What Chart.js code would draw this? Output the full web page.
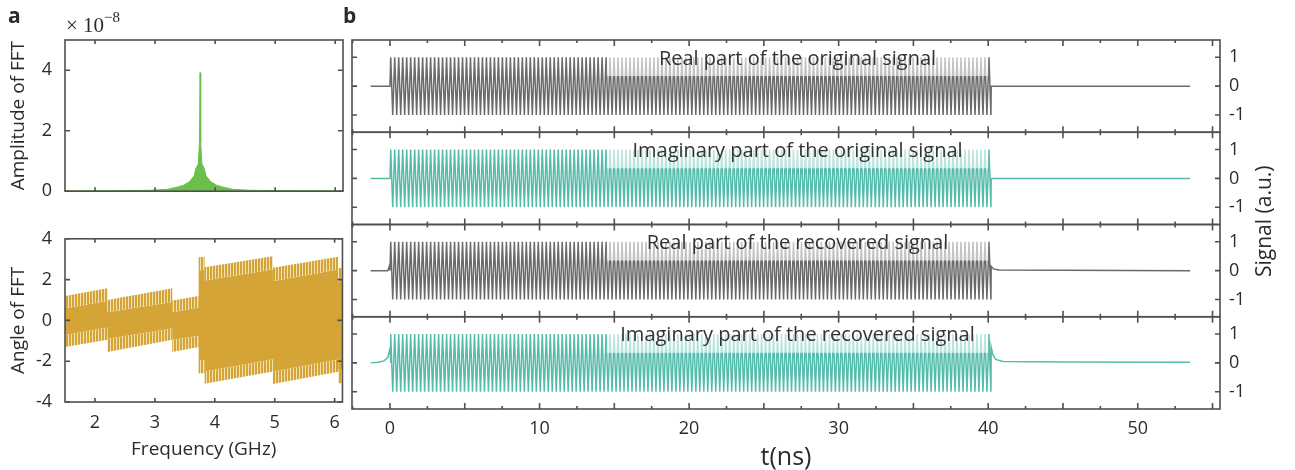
<!DOCTYPE html>
<html>
<head>
<meta charset="utf-8">
<script src="https://cdn.jsdelivr.net/npm/chart.js@4.4.1/dist/chart.umd.min.js"></script>
<style>
body { margin: 0; background: #fff; font-family: 'Open Sans', sans-serif; color: #2b2b2b; }
#fig { position: relative; width: 1295px; height: 470px; overflow: hidden; }
canvas { position: absolute; }
.lbl { position: absolute; white-space: nowrap; line-height: 1; }
</style>
</head>
<body>
<div id="fig">
  <canvas id="amp" width="350" height="215" style="left:0;top:0"></canvas>
  <canvas id="ang" width="350" height="255" style="left:0;top:215px"></canvas>
  <canvas id="sig" width="955" height="470" style="left:340px;top:0"></canvas>
  <div class="lbl" style="left:8px;top:5px;font-weight:bold;font-size:21px">a</div>
  <div class="lbl" style="left:343px;top:5px;font-weight:bold;font-size:21px">b</div>
  <div class="lbl" style="left:66px;top:12px;font-family:'Liberation Serif',serif;font-size:21px">&times; 10<sup style="font-size:15px;position:relative;top:-2px">&minus;8</sup></div>
  <div class="lbl" style="left:1253px;top:277px;font-size:21px;transform-origin:0 0;transform:rotate(-90deg)">Signal (a.u.)</div>
</div>
<script>
const FONT = "'Open Sans', sans-serif";
const TEXT = '#2b2b2b';
const FRAME = '#505050';

// ---- panel a: FFT of the burst ----
const freqTicks = [2, 3, 4, 5, 6];
const ampTicks = [0, 2, 4];
const angTicks = [-4, -2, 0, 2, 4];

// amplitude (x 1e-8) read along the envelope
const ampFreq  = [1.5, 2.4, 2.9, 3.2, 3.36, 3.48, 3.57, 3.65, 3.68, 3.72, 3.74, 3.75, 3.76, 3.78, 3.82, 3.85, 3.93, 4.02, 4.14, 4.3, 4.6, 5.1, 6.13];
const ampValue = [0.01, 0.02, 0.03, 0.06, 0.13, 0.2, 0.31, 0.5, 0.75, 0.9, 1.6, 3.92, 1.6, 0.9, 0.75, 0.5, 0.31, 0.2, 0.13, 0.06, 0.03, 0.02, 0.01];

// phase: segment edges (GHz) and [start, end] level of each band edge (rad)
const angEdges    = [1.5, 2.21, 3.29, 3.73, 3.83, 4.97, 6.06, 6.13];
const angOuterTop = [[1.2, 1.58], [1.0, 1.57], [0.97, 1.2], [3.1, 3.12], [2.6, 3.15], [2.58, 3.12], [2.55, 2.6]];
const angInnerTop = [[0.6, 0.95], [0.4, 0.9], [0.4, 0.62], [2.45, 2.48], [1.95, 2.5], [1.92, 2.5], [1.9, 1.95]];
const angInnerBot = [[-0.72, -0.35], [-0.9, -0.4], [-0.95, -0.75], [-1.95, -1.93], [-2.5, -1.9], [-2.5, -1.92], [-2.45, -2.4]];
const angOuterBot = [[-1.3, -0.95], [-1.55, -0.95], [-1.55, -1.3], [-2.6, -2.58], [-3.1, -2.5], [-3.12, -2.52], [-3.1, -3.05]];

// ---- panel b: time traces ----
const timeTicks = [0, 10, 20, 30, 40, 50];
const timeMarks = [-2.5, 0, 2.5, 5, 7.5, 10, 12.5, 15, 17.5, 20, 22.5, 25, 27.5, 30, 32.5, 35, 37.5, 40, 42.5, 45, 47.5, 50, 52.5, 55];
const sigTicks = [-1, 0, 1];
const traceTitles = ['Real part of the original signal', 'Imaginary part of the original signal',
                     'Real part of the recovered signal', 'Imaginary part of the recovered signal'];
const traceStart = -1.3, traceEnd = 53.5;   // ns
const burstStart = 0.05, burstEnd = 40.2;   // ns
const carrierGHz = 3.75;                    // FFT peak
const burstAmp = 1.0;
// edges of the recovered traces [t, value]
const recRealPre  = [[-1.3, 0], [-0.15, 0], [-0.05, 0.15], [0.0, 0]];
const recRealPost = [[40.2, 0.15], [40.35, 0.06], [40.7, 0.02], [53.5, 0]];
const recImagPre  = [[-1.3, 0], [-0.8, 0.02], [-0.4, 0.07], [-0.15, 0.18], [0.0, 0.5], [0.05, 0]];
const recImagPost = [[40.2, 0.55], [40.3, 0.3], [40.5, 0.12], [41, 0.05], [45, 0.03], [53.5, 0.02]];

const GREEN = '#6dbf4b', GOLD = '#d4a437', GRAY = '#6a6a6a', TEAL = '#55bcac';

function ticksFrom(arr) { return s => { s.ticks = arr.map(v => ({ value: v })); }; }

// box + inward tick marks drawn over the axes
function makeFrame(yIds, xMarks, yMarks, lenFor) {
  return {
    id: 'frame',
    afterDraw(chart) {
      const { ctx, chartArea } = chart;
      const xs = chart.scales.x;
      ctx.save();
      ctx.strokeStyle = FRAME;
      ctx.lineWidth = 1.6;
      yIds.forEach(id => {
        const ys = chart.scales[id];
        const L = chartArea.left, R = chartArea.right, T = ys.top, B = ys.bottom;
        ctx.strokeRect(L, T, R - L, B - T);
        ctx.beginPath();
        xMarks.forEach(v => {
          const px = xs.getPixelForValue(v), n = lenFor(v);
          if (px < L - 0.5 || px > R + 0.5) return;
          ctx.moveTo(px, T); ctx.lineTo(px, T + n);
          ctx.moveTo(px, B); ctx.lineTo(px, B - n);
        });
        yMarks.forEach(v => {
          const py = ys.getPixelForValue(v);
          ctx.moveTo(L, py); ctx.lineTo(L + 5, py);
          ctx.moveTo(R, py); ctx.lineTo(R - 5, py);
        });
        ctx.stroke();
      });
      ctx.restore();
    }
  };
}

const tickFont = { family: FONT, size: 18 };
const titleFont = { family: FONT, size: 19 };
const baseOpts = { responsive: false, animation: false, events: [] };

// ---- amplitude ----
new Chart(document.getElementById('amp'), {
  type: 'line',
  data: { datasets: [{
    data: ampFreq.map((f, i) => ({ x: f, y: ampValue[i] })),
    borderColor: GREEN, backgroundColor: GREEN, borderWidth: 1, pointRadius: 0, fill: 'origin', tension: 0
  }] },
  options: { ...baseOpts,
    layout: { padding: { top: 40, right: 7, bottom: 8, left: 0 } },
    plugins: { legend: { display: false }, tooltip: { enabled: false } },
    scales: {
      x: { type: 'linear', min: 1.5, max: 6.13, display: false },
      y: { type: 'linear', min: 0, max: 5,
        afterBuildTicks: ticksFrom(ampTicks), afterFit: s => { s.width = 65; },
        grid: { display: false, drawTicks: false }, border: { display: false },
        ticks: { padding: 13, color: TEXT, font: tickFont },
        title: { display: true, text: 'Amplitude of FFT', color: TEXT, font: titleFont, padding: { top: 7, bottom: 0 } } }
    }
  },
  plugins: [makeFrame(['y'], freqTicks, ampTicks, () => 4)]
});

// ---- phase ----
const angCtx = document.getElementById('ang').getContext('2d');
const tile = document.createElement('canvas');
tile.width = 3; tile.height = 1;
const tg = tile.getContext('2d');
tg.fillStyle = '#f3e2b6'; tg.fillRect(0, 0, 3, 1);
tg.fillStyle = GOLD; tg.fillRect(0, 0, 2, 1);
const stripe = angCtx.createPattern(tile, 'repeat');

function segLine(levels) {
  const pts = [];
  levels.forEach((lv, i) => { pts.push({ x: angEdges[i], y: lv[0] }, { x: angEdges[i + 1], y: lv[1] }); });
  return pts;
}
const band = (levels, fill, bg) => ({ data: segLine(levels), fill, backgroundColor: bg,
  borderColor: 'rgba(0,0,0,0)', borderWidth: 0, pointRadius: 0, tension: 0 });

new Chart(angCtx, {
  type: 'line',
  data: { datasets: [
    band(angOuterTop, '+1', stripe),
    band(angInnerTop, '+1', GOLD),
    band(angInnerBot, '+1', stripe),
    band(angOuterBot, false, 'rgba(0,0,0,0)')
  ] },
  options: { ...baseOpts,
    layout: { padding: { top: 19, right: 7, bottom: 0, left: 0 } },
    plugins: { legend: { display: false }, tooltip: { enabled: false } },
    scales: {
      x: { type: 'linear', min: 1.5, max: 6.13,
        afterBuildTicks: ticksFrom(freqTicks), afterFit: s => { s.height = 68; },
        grid: { display: false, drawTicks: false }, border: { display: false },
        ticks: { padding: 10, color: TEXT, font: tickFont },
        title: { display: true, text: 'Frequency (GHz)', color: TEXT, font: titleFont, padding: { top: 0, bottom: 9 } } },
      y: { type: 'linear', min: -4, max: 4,
        afterBuildTicks: ticksFrom(angTicks), afterFit: s => { s.width = 65; },
        grid: { display: false, drawTicks: false }, border: { display: false },
        ticks: { padding: 13, color: TEXT, font: tickFont },
        title: { display: true, text: 'Angle of FFT', color: TEXT, font: titleFont, padding: { top: 7, bottom: 0 } } }
    }
  },
  plugins: [makeFrame(['y'], freqTicks, angTicks, () => 4)]
});

// ---- time traces ----
// burst drawn through its peaks, half a carrier period apart
function burst() {
  const half = 1 / (2 * carrierGHz);
  const pts = [];
  for (let k = 0; burstStart + k * half <= burstEnd; k++) {
    pts.push({ x: burstStart + k * half, y: k % 2 ? -burstAmp : burstAmp });
  }
  return pts;
}
const toPts = arr => arr.map(([x, y]) => ({ x, y }));
const plainPre = toPts([[traceStart, 0], [0, 0]]);
const plainPost = toPts([[burstEnd, 0], [traceEnd, 0]]);

const traces = [
  [...plainPre, ...burst(), ...plainPost],
  [...plainPre, ...burst(), ...plainPost],
  [...toPts(recRealPre), ...burst(), ...toPts(recRealPost)],
  [...toPts(recImagPre), ...burst(), ...toPts(recImagPost)]
];
const traceColors = [GRAY, TEAL, GRAY, TEAL];

const yAxis = () => ({
  type: 'linear', position: 'right', stack: 'sig', stackWeight: 1, min: -1.6, max: 1.6,
  afterBuildTicks: ticksFrom(sigTicks), afterFit: s => { s.width = 75; },
  grid: { display: false, drawTicks: false }, border: { display: false },
  ticks: { padding: 9, color: TEXT, font: tickFont }
});

const titleBoxes = {
  id: 'titleBoxes',
  afterDatasetsDraw(chart) {
    const { ctx } = chart;
    const xs = chart.scales.x;
    const x0 = xs.getPixelForValue(14.5), x1 = xs.getPixelForValue(40);
    traceTitles.forEach((txt, i) => {
      const ys = chart.scales['y' + (i + 1)];
      const top = ys.top, bot = ys.getPixelForValue(0.35);
      ctx.save();
      ctx.fillStyle = 'rgba(255,255,255,0.6)';
      ctx.fillRect(x0, top, x1 - x0, bot - top);
      ctx.fillStyle = '#333';
      ctx.font = "20px 'Open Sans'";
      ctx.textAlign = 'center';
      ctx.textBaseline = 'middle';
      ctx.fillText(txt, (x0 + x1) / 2, (top + bot) / 2 + 1);
      ctx.restore();
    });
  }
};

new Chart(document.getElementById('sig'), {
  type: 'line',
  data: { datasets: traces.map((d, i) => ({
    data: d, yAxisID: 'y' + (i + 1), borderColor: traceColors[i], borderWidth: 1.5,
    pointRadius: 0, fill: false, tension: 0
  })) },
  options: { ...baseOpts,
    layout: { padding: { top: 40, right: 0, bottom: 0, left: 12 } },
    plugins: { legend: { display: false }, tooltip: { enabled: false } },
    scales: {
      x: { type: 'linear', min: -2.54, max: 55.5,
        afterBuildTicks: ticksFrom(timeTicks), afterFit: s => { s.height = 61; },
        grid: { display: false, drawTicks: false }, border: { display: false },
        ticks: { padding: 9, color: TEXT, font: tickFont },
        title: { display: true, text: 't(ns)', color: TEXT, font: { family: FONT, size: 25, lineHeight: 1 }, padding: { top: 0, bottom: 0 } } },
      y1: yAxis(), y2: yAxis(), y3: yAxis(), y4: yAxis()
    }
  },
  plugins: [titleBoxes, makeFrame(['y1', 'y2', 'y3', 'y4'], timeMarks, sigTicks, v => (v % 5 === 0 ? 6 : 3))]
});
</script>
</body>
</html>
